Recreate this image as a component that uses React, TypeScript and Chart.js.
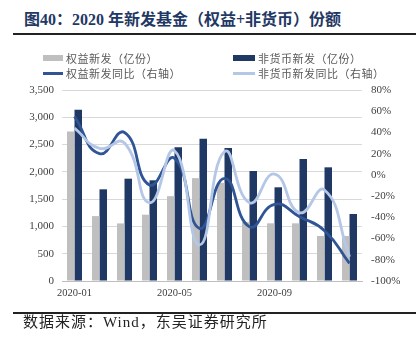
import React, { useEffect, useRef } from "react";
import { Chart, registerables } from "chart.js";

Chart.register(...registerables);

const categories = [
  "2020-01", "2020-02", "2020-03", "2020-04", "2020-05", "2020-06",
  "2020-07", "2020-08", "2020-09", "2020-10", "2020-11", "2020-12",
];
const equityNew = [2740, 1190, 1055, 1215, 1555, 1885, 1800, 1080, 1057, 1057, 825, 825];
const nonMoneyNew = [3140, 1680, 1875, 1845, 2450, 2605, 2437, 2016, 1717, 2236, 2083, 1228];
const equityYoY = [55, 20, 40, -9.5, 15.6, -50.4, -3.2, -48.8, -27.7, -39.4, -52.6, -83.4];
const nonMoneyYoY = [44, 25, 30, -26.2, 22.8, -66, 21.9, -26.2, 0.8, -35.6, -14.3, -77.1];
const shownTicks = ["2020-01", "2020-05", "2020-09"];

const leftTicksMin = 0;
const leftTicksMax = 3500;
const leftStep = 500;
const rightMin = -100;
const rightMax = 80;
const rightStep = 20;

const legendItems = [
  { label: "权益新发（亿份）", color: "#BFBFBF", kind: "bar", x: 43, y: 58, w: 20 },
  { label: "非货币新发（亿份）", color: "#1F3864", kind: "bar", x: 233, y: 58, w: 22 },
  { label: "权益新发同比（右轴）", color: "#2F5597", kind: "line", x: 43, y: 73, w: 20 },
  { label: "非货币新发同比（右轴）", color: "#B4C7E7", kind: "line", x: 233, y: 73, w: 22 },
];

export default function App() {
  const ref = useRef<HTMLCanvasElement | null>(null);

  useEffect(() => {
    if (!ref.current) return;
    const tickFont = { family: "'Liberation Serif', 'Times New Roman', serif", size: 11 };
    const chart = new Chart(ref.current, {
      type: "bar",
      data: {
        labels: categories,
        datasets: [
          {
            type: "bar",
            label: "权益新发（亿份）",
            data: equityNew,
            backgroundColor: "#BFBFBF",
            yAxisID: "y",
            order: 3,
            categoryPercentage: 0.6,
            barPercentage: 1.0,
          },
          {
            type: "bar",
            label: "非货币新发（亿份）",
            data: nonMoneyNew,
            backgroundColor: "#1F3864",
            yAxisID: "y",
            order: 3,
            categoryPercentage: 0.6,
            barPercentage: 1.0,
          },
          {
            type: "line",
            label: "权益新发同比（右轴）",
            data: equityYoY,
            borderColor: "#2F5597",
            borderWidth: 2.8,
            pointRadius: 0,
            tension: 0.5,
            yAxisID: "y1",
            order: 2,
          },
          {
            type: "line",
            label: "非货币新发同比（右轴）",
            data: nonMoneyYoY,
            borderColor: "#B4C7E7",
            borderWidth: 2.8,
            pointRadius: 0,
            tension: 0.5,
            yAxisID: "y1",
            order: 1,
          },
        ],
      },
      options: {
        animation: false,
        responsive: false,
        maintainAspectRatio: false,
        layout: { padding: { top: 90, left: 0, right: 0, bottom: 0 } },
        plugins: { legend: { display: false }, tooltip: { enabled: false } },
        scales: {
          x: {
            grid: { display: false, drawTicks: false },
            border: { display: true, color: "#BFBFBF", width: 1 },
            ticks: {
              autoSkip: false,
              maxRotation: 0,
              padding: 6,
              color: "#404040",
              font: { ...tickFont, size: 10.5 },
              callback: (_v: any, i: number) =>
                shownTicks.includes(categories[i]) ? categories[i] : "",
            },
            afterFit: (s: any) => {
              s.height = 64;
            },
          },
          y: {
            position: "left",
            min: leftTicksMin,
            max: leftTicksMax,
            grid: { color: "#D9D9D9", drawTicks: false },
            border: { display: false },
            ticks: {
              stepSize: leftStep,
              padding: 8,
              color: "#404040",
              font: tickFont,
              callback: (v: any) => Number(v).toLocaleString("en-US"),
            },
            afterFit: (s: any) => {
              s.width = 62;
            },
          },
          y1: {
            position: "right",
            min: rightMin,
            max: rightMax,
            grid: { display: false, drawTicks: false },
            border: { display: false },
            ticks: {
              stepSize: rightStep,
              padding: 9,
              color: "#404040",
              font: tickFont,
              callback: (v: any) => `${v}%`,
            },
            afterFit: (s: any) => {
              s.width = 54;
            },
          },
        },
      },
    });
    return () => chart.destroy();
  }, []);

  const cjk = "'Liberation Serif', 'Noto Sans CJK SC', serif";

  return (
    <div
      style={{
        position: "fixed",
        left: 0,
        top: 0,
        width: 416,
        height: 345,
        background: "#fff",
        overflow: "hidden",
      }}
    >
      <div
        style={{
          position: "absolute",
          left: 24,
          top: 10,
          fontFamily: cjk,
          fontWeight: 700,
          fontSize: 16,
          lineHeight: "20px",
          color: "#1F3864",
          whiteSpace: "nowrap",
        }}
      >
        图40：2020 年新发基金（权益+非货币）份额
      </div>
      <div
        style={{
          position: "absolute",
          left: 13,
          top: 33,
          width: 403,
          height: 2,
          background: "#222",
        }}
      />
      <canvas
        ref={ref}
        width={416}
        height={345}
        style={{ position: "absolute", left: 0, top: 0, width: 416, height: 345 }}
      />
      {legendItems.map((it) => (
        <div key={it.label}>
          <div
            style={{
              position: "absolute",
              left: it.x,
              top: it.kind === "bar" ? it.y - 3 : it.y - 1.5,
              width: it.w,
              height: it.kind === "bar" ? 6 : 3,
              background: it.color,
            }}
          />
          <div
            style={{
              position: "absolute",
              left: it.x + it.w + 3,
              top: it.y - 8,
              fontFamily: "'Noto Sans CJK SC', sans-serif",
              fontSize: 11,
              lineHeight: "16px",
              letterSpacing: 0.5,
              color: "#595959",
              whiteSpace: "nowrap",
            }}
          >
            {it.label}
          </div>
        </div>
      ))}
      <div
        style={{
          position: "absolute",
          left: 13,
          top: 312,
          width: 403,
          height: 2,
          background: "#222",
        }}
      />
      <div
        style={{
          position: "absolute",
          left: 23,
          top: 312,
          fontFamily: cjk,
          fontSize: 15,
          lineHeight: "20px",
          color: "#222",
          whiteSpace: "nowrap",
          letterSpacing: 1,
        }}
      >
        数据来源：Wind，东吴证券研究所
      </div>
    </div>
  );
}
